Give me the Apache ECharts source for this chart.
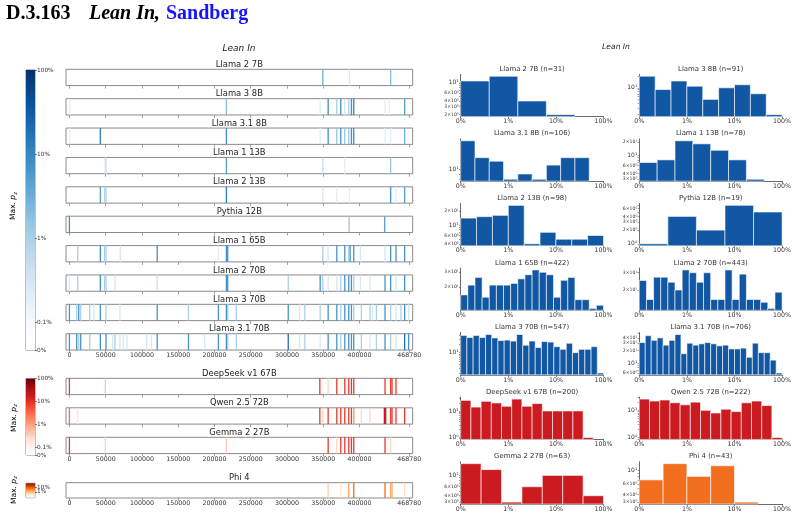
<!DOCTYPE html>
<html><head><meta charset="utf-8">
<script src="https://cdn.jsdelivr.net/npm/echarts@6/dist/echarts.min.js"></script>
<style>html,body{margin:0;padding:0;background:#fff}#c{width:797px;height:519px}</style>
</head><body><div id="c"></div>
<script>
// ================= DATA =================
const tokenCount = 468780;
const stripTickValues = [0, 50000, 100000, 150000, 200000, 250000, 300000, 350000, 400000, 468780];

const blueStripModels = ['Llama 2 7B','Llama 3 8B','Llama 3.1 8B','Llama 1 13B','Llama 2 13B','Pythia 12B','Llama 1 65B','Llama 2 70B','Llama 3 70B','Llama 3.1 70B'];
const redStripModels = ['DeepSeek v1 67B','Qwen 2.5 72B','Gemma 2 27B'];
const orangeStripModels = ['Phi 4'];

// [token position, max p_z in %]
const stripLlama2_7B = [[349530,3],[386230,0.3],[443100,2]];
const stripLlama3_8B = [[500,0.2],[216510,2],[345860,0.2],[356870,8],[368790,1],[374300,8],[379800,0.3],[385310,1],[388980,8],[392190,12],[435310,0.2],[441270,0.2],[462370,5]];
const stripLlama31_8B = [[500,0.2],[42660,12],[216510,8],[345860,0.2],[356870,8],[368790,1.5],[374300,8],[379800,1.5],[385310,1.5],[388980,8],[392190,9],[435310,0.2],[443100,0.2],[462370,3]];
const stripLlama1_13B = [[49540,0.4],[50460,0.4],[216510,5],[349530,0.5],[379800,0.2],[443100,1.5]];
const stripLlama2_13B = [[42660,5],[48620,0.8],[50460,0.8],[216510,12],[349530,0.3],[368790,0.2],[386230,0.2],[443100,7],[450440,0.2],[462370,5]];
const stripPythia12B = [[0,8],[385770,1.5],[434850,5]];
const stripLlama1_65B = [[11470,1],[42660,8],[48620,1],[50460,1],[70180,0.3],[121100,8],[205500,0.2],[216510,8],[218340,7],[349530,1],[356870,0.3],[368790,7],[379800,7],[385310,1],[387150,7],[392190,7],[401360,0.3],[435310,0.3],[443100,7],[450440,7],[462370,7]];
const stripLlama2_70B = [[0,0.3],[11470,1],[42660,8],[48620,1],[50460,1],[62840,0.3],[121100,0.4],[216510,8],[218340,7],[301830,1],[345860,7],[349530,1],[356870,0.3],[368790,0.3],[374300,1],[379800,7],[385310,7],[388980,7],[392190,1],[401360,0.3],[414660,0.3],[435310,7],[443100,7],[450440,0.3],[462370,7]];
const stripLlama3_70B = [[0,7],[10090,1],[12840,7],[15600,1],[27980,1],[33940,0.3],[42660,7],[50460,1],[69720,0.3],[121100,7],[164210,1],[205500,7],[216510,7],[218340,1],[230270,1],[301830,7],[317430,0.3],[324760,1],[345860,1],[356870,7],[368790,7],[374300,1],[379800,7],[385310,7],[388980,7],[392190,1],[402740,1],[414660,1],[418330,0.3],[423380,1],[435310,7],[443100,1],[450440,0.3],[457320,1],[462370,7],[467880,0.3]];
const stripLlama31_70B = [[0,7],[10090,7],[12840,1],[15600,7],[27980,1],[42660,7],[50460,7],[59630,0.3],[62840,1],[69720,0.3],[74310,0.3],[79360,0.3],[106420,0.3],[113300,0.3],[121100,7],[164210,7],[186690,0.3],[205500,7],[216510,7],[218340,1],[230270,1],[301830,18],[317430,0.3],[324760,1],[345860,0.3],[356870,7],[368790,7],[374300,1],[379800,7],[385310,7],[388980,7],[392190,7],[402740,1],[414660,0.3],[423380,1],[435310,7],[443100,1],[450440,0.3],[462370,18],[467880,7]];
const stripDeepSeek67B = [[0,8],[49540,0.4],[345400,8],[356870,0.3],[368790,8],[379800,8],[385310,8],[388980,8],[392190,8],[435310,8],[443100,8],[444940,8],[450440,8]];
const stripQwen72B = [[0,3],[11470,0.2],[345400,8],[349530,0.3],[356870,8],[368790,8],[374300,8],[379800,8],[385310,8],[388980,8],[392190,1.5],[402740,0.3],[414660,0.3],[434390,18],[436230,18],[443100,8],[444940,8],[450440,8],[462370,8]];
const stripGemma27B = [[0,8],[49540,0.3],[216510,0.4],[356870,8],[368790,0.3],[374300,8],[379800,8],[385310,8],[388980,8],[392190,8],[435310,8],[443100,0.3]];
const stripPhi4 = [[356870,0.5],[374300,0.2],[385310,2],[392190,7],[435310,7],[443100,1.5],[444940,1.5],[462370,0.3]];

const stripSeries = [stripLlama2_7B,stripLlama3_8B,stripLlama31_8B,stripLlama1_13B,stripLlama2_13B,stripPythia12B,stripLlama1_65B,stripLlama2_70B,stripLlama3_70B,stripLlama31_70B,stripDeepSeek67B,stripQwen72B,stripGemma27B,stripPhi4];

const colorbarTickLabels = ['0%','0.1%','1%','10%','100%'];

// Histograms: counts per equal-width bin on the 0%..100% axis
const histModels = ['Llama 2 7B','Llama 3 8B','Llama 3.1 8B','Llama 1 13B','Llama 2 13B','Pythia 12B','Llama 1 65B','Llama 2 70B','Llama 3 70B','Llama 3.1 70B','DeepSeek v1 67B','Qwen 2.5 72B','Gemma 2 27B','Phi 4'];
const histN = [31,91,106,78,98,19,422,443,547,706,200,222,63,43];
const histLlama2_7B = [11,14,4,2,0];
const histLlama3_8B = [20,9,15,11,5,10,12,7,2];
const histLlama31_8B = [19,13,12,8,9,8,11,13,13,0];
const histLlama1_13B = [7,8,21,18,13,8,3,0];
const histLlama2_13B = [14,15,16,26,4,7,5,5,6];
const histPythia12B = [1,4,2,7,5];
const histLlama1_65B = [16,21,26,15,21,21,21,22,25,28,32,30,28,15,24,26,14,14,11,12];
const histLlama2_70B = [25,16,27,27,24,20,32,30,24,30,16,16,32,16,29,16,16,15,13,19];
const histLlama3_70B = [39,33,39,33,42,32,26,27,25,42,18,25,15,24,23,16,13,21,10,13,13,16,2];
const histLlama31_70B = [31,45,35,40,27,35,48,17,30,27,29,31,29,26,27,22,22,23,14,30,18,18,12,6];
const histDeepSeek67B = [25,14,23,20,15,28,15,19,10,10,10,10,1,0];
const histQwen72B = [26,22,24,19,16,20,10,8,11,9,19,22,15,1];
const histGemma27B = [17,13,3,6,10,10,4];
const histPhi4 = [7,13,8,12,3,0];
const histCounts = [histLlama2_7B,histLlama3_8B,histLlama31_8B,histLlama1_13B,histLlama2_13B,histPythia12B,histLlama1_65B,histLlama2_70B,histLlama3_70B,histLlama31_70B,histDeepSeek67B,histQwen72B,histGemma27B,histPhi4];
const histYTickLabels = [[2,3,4,6,10],[10],[10],[3,4,6,10,20],[4,6,10,20],[1,2,3,4,6],[20,30],[20,30],[10],[6,10,20,30,40],[1,10],[1,10],[3,4,6,10],[3,4,6,10]];
const histXTickLabels = ['0%','1%','10%','100%'];
const histFamily = ['b','b','b','b','b','b','b','b','b','b','r','r','r','o'];

// ================= STYLE / LAYOUT =================
const FONT = '"DejaVu Sans", sans-serif';
const BLUES = ['#f7fbff','#deebf7','#c6dbef','#9ecae1','#6baed6','#4292c6','#2171b5','#08519c','#08306b'];
const REDS = ['#fff5f0','#fee0d2','#fcbba1','#fc9272','#fb6a4a','#ef3b2c','#cb181d','#a50f15','#67000d'];
const ORANGES = ['#fff5eb','#fee6ce','#fdd0a2','#fdae6b','#fd8d3c','#f16913','#d94801','#a63603','#7f2704'];
const BAR = {b:'#1157a3', r:'#cc1b20', o:'#f26f1f'};

function hex2rgb(h){return [parseInt(h.slice(1,3),16),parseInt(h.slice(3,5),16),parseInt(h.slice(5,7),16)];}
function mix(a,b,t){const A=hex2rgb(a),B=hex2rgb(b);return 'rgb('+A.map((v,i)=>Math.round(v+(B[i]-v)*t)).join(',')+')';}
function cmap(stops,t){t=Math.max(0,Math.min(1,t));const s=t*(stops.length-1);const i=Math.min(stops.length-2,Math.floor(s));return mix(stops[i],stops[i+1],s-i);}
// colorbar position (0% -> 0, 0.1% -> 1/3, 1% -> 4/3, 10% -> 7/3, 100% -> 10/3)
function cbPos(p){return p<=0.1 ? p/0.1/3 : 1/3+Math.log10(p/0.1);}
function colorFor(stops,p){const t=cbPos(p)/(10/3);return t<0.1?mix('#ffffff',stops[0],t/0.1):cmap(stops,(t-0.1)/0.9);}
const cbValues = [0,1/3,4/3,7/3,10/3];

const option = {animation:false, backgroundColor:'#ffffff', grid:[], xAxis:[], yAxis:[], series:[], graphic:[]};
function addGrid(g,xa,ya){const i=option.grid.length;option.grid.push(g);xa.gridIndex=i;ya.gridIndex=i;option.xAxis.push(xa);option.yAxis.push(ya);return i;}
function txt(x,y,text,font,extra){option.graphic.push(Object.assign({type:'text',x:x,y:y,z:100,style:Object.assign({text:text,font:font,fill:'#222',align:'center',verticalAlign:'middle'},extra||{})}));}

// ---- title ----
txt(6,14,'D.3.163','bold 20px "Liberation Serif", serif',{align:'left',fill:'#000'});
txt(89,14,'Lean In','italic bold 20px "Liberation Serif", serif',{align:'left',fill:'#000'});
txt(154,14,',','bold 20px "Liberation Serif", serif',{align:'left',fill:'#000'});
txt(166,14,'Sandberg','bold 20px "Liberation Serif", serif',{align:'left',fill:'#1414ff'});
txt(239,49,'Lean In','italic 9px '+FONT);
txt(616,46.7,'Lean In','italic 7.6px '+FONT);

// ---- strips ----
const STRIP_L = 66, STRIP_W = 346.7;
const stripTops = [];
for (let i=0;i<10;i++) stripTops.push(69.3+i*29.38);
stripTops.push(378.3,407.8,437.3,482.7);
const stripH = [16.3,16.3,16.3,16.3,16.3,16.3,16.3,16.3,16.3,16.3,16.3,16.3,16.3,15.3];
const stripNames = blueStripModels.concat(redStripModels, orangeStripModels);
const stripStops = stripNames.map((_,i)=> i<10?BLUES:(i<13?REDS:ORANGES));
const labelledStrips = [9,12,13];

function renderStrip(stops){
  return function(params,api){
    const x=api.value(0), p=api.value(1);
    const a=api.coord([x,0]), b=api.coord([x,1]);
    return {type:'rect',shape:{x:a[0]-0.65,y:b[1],width:1.3,height:a[1]-b[1]},style:{fill:colorFor(stops,p)}};
  };
}
stripNames.forEach((name,i)=>{
  const lab = labelledStrips.indexOf(i)>=0;
  const gi = addGrid(
    {left:STRIP_L,top:stripTops[i],width:STRIP_W,height:stripH[i],show:true,borderColor:'#8a8a8a',borderWidth:1,backgroundColor:'#fff'},
    {type:'value',min:-tokenCount*0.01,max:tokenCount*1.01,axisLine:{show:false,onZero:false},splitLine:{show:false},
     axisTick:{show:true,customValues:stripTickValues,length:3,lineStyle:{color:'#8a8a8a',width:0.8}},
     axisLabel:{show:lab,customValues:stripTickValues,formatter:v=>String(v),fontSize:6.3,fontFamily:FONT,color:'#333',margin:2.5}},
    {type:'value',min:0,max:1,show:false}
  );
  const data = stripSeries[i].slice().sort((a,b)=>a[1]-b[1]);
  option.series.push({type:'custom',xAxisIndex:gi,yAxisIndex:gi,data:data,renderItem:renderStrip(stripStops[i]),silent:true});
  txt(STRIP_L+STRIP_W/2, stripTops[i]-4.6, name, '8.4px '+FONT);
});

// ---- colorbars ----
function addColorbar(top,height,stops,vals,labels){
  const gi = addGrid(
    {left:26,top:top,width:9,height:height,show:true,borderColor:'#555',borderWidth:0.7},
    {type:'value',min:0,max:1,show:false},
    {type:'value',min:0,max:10/3,position:'right',axisLine:{show:false,onZero:false},splitLine:{show:false},
     axisTick:{show:true,customValues:vals,length:2,lineStyle:{color:'#444',width:0.7}},
     axisLabel:{customValues:vals,formatter:v=>{let k=0,d=1e9;cbValues.forEach((c,j)=>{if(Math.abs(c-v)<d){d=Math.abs(c-v);k=j;}});return labels[k];},fontSize:5.8,fontFamily:FONT,color:'#333',margin:2}}
  );
  const cs=[{offset:0,color:'#ffffff'}].concat(stops.map((c,j)=>({offset:0.1+0.9*j/(stops.length-1),color:c})));
  option.series.push({type:'custom',xAxisIndex:gi,yAxisIndex:gi,data:[[0,0]],silent:true,renderItem:function(params,api){
    const a=api.coord([0,0]), b=api.coord([1,10/3]);
    return {type:'rect',shape:{x:a[0],y:b[1],width:b[0]-a[0],height:a[1]-b[1]},style:{fill:new echarts.graphic.LinearGradient(0,1,0,0,cs)}};
  }});
}
addColorbar(70,280.5,BLUES,cbValues,colorbarTickLabels);
addColorbar(378.7,76.3,REDS,cbValues,colorbarTickLabels);
addColorbar(483.3,14.4,ORANGES,cbValues.slice(1),colorbarTickLabels);
const pzRich = {a:{fontSize:7.5,fontFamily:FONT,lineHeight:9,color:'#222'},p:{fontSize:7.5,fontFamily:FONT,fontStyle:'italic',lineHeight:9,color:'#222'},z:{fontSize:5.3,fontFamily:FONT,fontStyle:'italic',lineHeight:5,verticalAlign:'bottom',color:'#222'}};
[[13.5,206],[14,418],[14,490]].forEach(([x,y])=>{
  option.graphic.push({type:'text',x:x,y:y,rotation:Math.PI/2,z:100,style:{text:'{a|Max. }{p|p}{z|z}',rich:pzRich,align:'center',verticalAlign:'middle'}});
});

// ---- histograms ----
const SUP = {'0':'⁰','1':'¹','2':'²','3':'³','-':'⁻'};
function logLabel(v){
  const e=Math.floor(v+1e-6); const m=Math.round(Math.pow(10,v-e));
  const s=String(e).split('').map(c=>SUP[c]).join('');
  return m===1?'{M|10'+s+'}':'{m|'+m+'×10'+s+'}';
}
const histCols = [460.7,639.3], histW = 142.8, histH = 42.3;
function renderHist(fill){
  return function(params,api){
    const x0=api.value(0), x1=api.value(1), c=api.value(2);
    const cs=params.coordSys;
    const a=api.coord([x0,0]), b=api.coord([x1,Math.log10(c)]);
    const yb=cs.y+cs.height;
    return {type:'rect',shape:{x:a[0],y:b[1],width:b[0]-a[0],height:yb-b[1]},style:{fill:fill,stroke:'rgba(255,255,255,0.6)',lineWidth:1}};
  };
}
histModels.forEach((name,i)=>{
  const col=i%2, row=Math.floor(i/2);
  const left=histCols[col], top=74.3+row*64.57;
  const counts=histCounts[i];
  const nz=counts.filter(c=>c>0);
  const lo=Math.log10(Math.min.apply(null,nz)), hi=Math.log10(Math.max.apply(null,nz));
  const mg=(hi-lo)*0.05, ymin=lo-mg, ymax=hi+mg;
  const ticks=[];
  for(let e=Math.floor(ymin);e<=Math.ceil(ymax);e++){for(let k=1;k<10;k++){const v=Math.log10(k)+e;if(v>=ymin&&v<=ymax)ticks.push(v);}}
  const labs=histYTickLabels[i].map(v=>Math.log10(v));
  const gi=addGrid(
    {left:left,top:top,width:histW,height:histH},
    {type:'value',min:0,max:3,interval:1,splitLine:{show:false},
     axisLine:{show:true,onZero:false,lineStyle:{color:'#444',width:0.8}},
     axisTick:{show:true,length:2,lineStyle:{color:'#444',width:0.7}},
     axisLabel:{formatter:v=>histXTickLabels[Math.round(v)],fontSize:6.3,fontFamily:FONT,color:'#333',margin:2}},
    {type:'value',min:ymin,max:ymax,splitLine:{show:false},
     axisLine:{show:true,onZero:false,lineStyle:{color:'#444',width:0.8}},
     axisTick:{show:true,customValues:ticks,length:1.6,lineStyle:{color:'#444',width:0.6}},
     axisLabel:{customValues:labs,formatter:logLabel,margin:2,color:'#333',rich:{M:{fontSize:6,fontFamily:FONT,color:'#333'},m:{fontSize:4.6,fontFamily:FONT,color:'#333'}}}}
  );
  const w=3/counts.length;
  const data=[];
  counts.forEach((c,j)=>{if(c>0)data.push([j*w,(j+1)*w,c]);});
  option.series.push({type:'custom',xAxisIndex:gi,yAxisIndex:gi,data:data,encode:{x:[0,1],y:2},renderItem:renderHist(BAR[histFamily[i]]),silent:true});
  txt(left+histW/2, top-5.3, name+' (n='+histN[i]+')', '6.9px '+FONT, {fill:'#333'});
});

const chart = echarts.init(document.getElementById('c'), null, {renderer:'canvas', width:797, height:519});
chart.setOption(option);
</script>
</body></html>
